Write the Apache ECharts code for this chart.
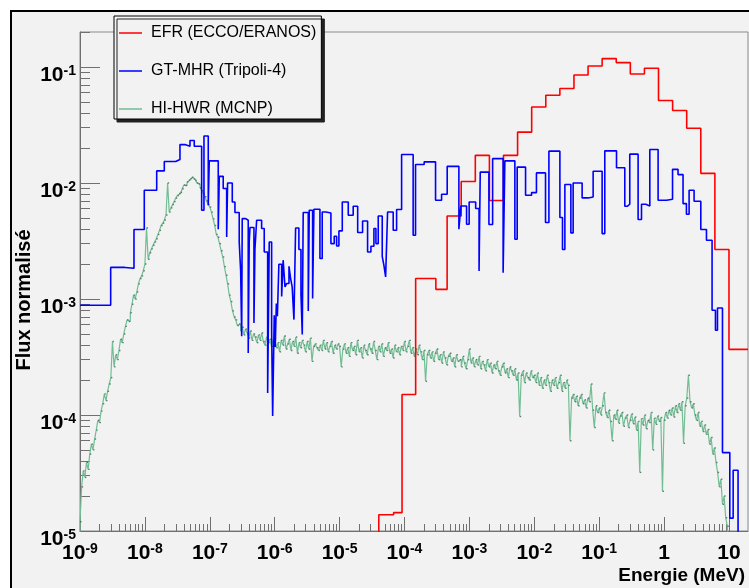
<!DOCTYPE html>
<html><head><meta charset="utf-8">
<script src="https://cdn.jsdelivr.net/npm/echarts@6/dist/echarts.min.js"></script>
<style>
html,body{margin:0;padding:0;background:#fff;width:749px;height:588px;overflow:hidden;}
#bg{position:absolute;left:10px;top:10px;width:739px;height:578px;background:#f2f2f2;border-left:2px solid #000;border-top:2px solid #000;box-sizing:border-box;}
#chart{position:absolute;left:0;top:0;width:749px;height:588px;}
</style></head><body><div id="bg"></div><div id="chart"></div>
<script>
// ---- data (energies in MeV, normalised flux) ----
const xTickValues = [1e-9, 1e-8, 1e-7, 1e-6, 1e-5, 1e-4, 1e-3, 1e-2, 1e-1, 1, 10];
const yTickValues = [1e-5, 1e-4, 1e-3, 1e-2, 1e-1];

// EFR (ECCO/ERANOS) 33-group structure (visible part)
const redEdges = [4.0169e-5, 6.7904e-5, 9.1661e-5, 1.4863e-4, 3.0432e-4, 4.54e-4, 7.4852e-4, 1.2341e-3, 2.0347e-3, 3.3546e-3, 5.5308e-3, 9.1188e-3, 1.5034e-2, 2.4788e-2, 4.0868e-2, 6.7379e-2, 0.11109, 0.18316, 0.30197, 0.49787, 0.82085, 1.3534, 2.2313, 3.6788, 6.0653, 10.0, 19.64];
const redFlux = [1.38e-5, 1.44e-5, 1.50e-4, 1.50e-3, 1.21e-3, 5.19e-3, 1.03e-2, 1.73e-2, 7.05e-3, 1.73e-2, 2.74e-2, 4.52e-2, 5.70e-2, 6.51e-2, 8.53e-2, 1.02e-1, 1.18e-1, 1.09e-1, 8.70e-2, 9.74e-2, 5.13e-2, 4.21e-2, 2.96e-2, 1.21e-2, 2.67e-3, 3.68e-4];

// GT-MHR (Tripoli-4)
const blueEdges = [1.00e-9, 2.97e-9, 4.93e-9, 6.79e-9, 9.78e-9, 1.52e-8, 1.99e-8, 2.98e-8, 3.47e-8, 4.14e-8,
  4.95e-8, 5.76e-8, 7.49e-8, 8.13e-8, 9.47e-8, 9.81e-8, 1.35e-7, 1.40e-7, 1.61e-7, 1.82e-7,
  1.88e-7, 2.22e-7, 2.44e-7, 2.84e-7, 2.99e-7, 3.10e-7, 3.16e-7, 3.57e-7, 3.91e-7, 4.05e-7,
  4.16e-7, 4.79e-7, 4.96e-7, 5.27e-7, 6.29e-7, 6.90e-7, 7.79e-7, 8.24e-7, 8.97e-7, 9.30e-7,
  9.84e-7, 1.02e-6, 1.06e-6, 1.10e-6, 1.16e-6, 1.28e-6, 1.35e-6, 1.44e-6, 1.53e-6, 1.66e-6,
  1.76e-6, 1.86e-6, 1.98e-6, 2.10e-6, 2.36e-6, 2.54e-6, 2.66e-6, 2.75e-6, 3.29e-6, 3.41e-6,
  3.84e-6, 4.02e-6, 4.98e-6, 5.40e-6, 6.16e-6, 7.35e-6, 8.27e-6, 9.00e-6, 9.76e-6, 1.10e-5,
  1.36e-5, 1.62e-5, 1.90e-5, 2.26e-5, 2.70e-5, 3.04e-5, 3.38e-5, 3.63e-5, 3.94e-5, 4.54e-5,
  4.82e-5, 5.12e-5, 5.49e-5, 6.70e-5, 7.56e-5, 9.03e-5, 1.36e-4, 1.48e-4, 2.01e-4, 3.01e-4,
  3.73e-4, 4.55e-4, 6.89e-4, 7.39e-4, 9.05e-4, 9.92e-4, 1.25e-3, 1.41e-3, 1.47e-3, 2.00e-3,
  2.28e-3, 3.31e-3, 3.52e-3, 5.02e-3, 5.45e-3, 7.34e-3, 9.08e-3, 1.08e-2, 1.49e-2, 1.68e-2,
  2.48e-2, 2.72e-2, 2.96e-2, 3.66e-2, 3.97e-2, 5.46e-2, 6.75e-2, 8.07e-2, 0.111, 0.122,
  0.185, 0.248, 0.273, 0.296, 0.398, 0.449, 0.523, 0.603, 0.809, 1.09,
  1.35, 1.64, 1.96, 2.21, 2.43, 2.90, 3.68, 4.50, 5.49, 6.19,
  6.65, 7.94, 10.3, 11.6, 13.8];
const blueFlux = [8.83e-4, 1.87e-3, 1.84e-3, 3.97e-3, 8.65e-3, 1.27e-2, 1.53e-2, 1.59e-2, 2.14e-2, 2.07e-2,
  2.32e-2, 2.07e-2, 5.82e-3, 2.54e-2, 6.42e-3, 1.55e-2, 3.99e-3, 1.14e-2, 8.95e-3, 3.42e-3,
  1.00e-2, 6.86e-3, 5.56e-3, 3.10e-3, 1.74e-3, 4.77e-4, 4.93e-3, 4.77e-3, 3.42e-4, 3.10e-3,
  4.13e-3, 6.21e-4, 2.67e-3, 4.77e-3, 4.05e-3, 2.54e-3, 1.55e-4, 3.10e-3, 5.37e-4, 9.80e-5,
  7.24e-4, 3.86e-4, 9.13e-4, 7.10e-4, 1.99e-3, 1.05e-3, 2.16e-3, 1.27e-3, 1.36e-3, 1.91e-3,
  1.50e-3, 1.27e-3, 6.64e-4, 4.09e-3, 2.67e-3, 1.10e-3, 4.93e-4, 5.56e-3, 7.88e-4, 5.82e-3,
  1.01e-3, 5.93e-3, 2.23e-3, 5.62e-3, 5.51e-3, 3.00e-3, 3.47e-3, 2.86e-3, 3.86e-3, 6.86e-3,
  5.27e-3, 6.30e-3, 3.74e-3, 4.70e-3, 2.54e-3, 2.85e-3, 4.05e-3, 3.00e-3, 5.19e-3, 2.33e-3,
  1.95e-3, 1.55e-3, 5.62e-3, 3.91e-3, 5.90e-3, 1.76e-2, 3.54e-3, 1.44e-2, 1.52e-2, 7.10e-3,
  7.99e-3, 1.39e-2, 3.99e-3, 6.33e-3, 4.41e-3, 6.86e-3, 6.02e-3, 1.74e-3, 1.24e-2, 4.38e-3,
  1.62e-2, 1.68e-3, 1.55e-2, 3.27e-3, 1.37e-2, 7.83e-3, 8.26e-3, 1.22e-2, 4.56e-3, 1.88e-2,
  5.03e-3, 2.67e-3, 9.69e-3, 3.71e-3, 1.00e-2, 7.43e-3, 7.57e-3, 1.26e-2, 3.66e-3, 1.89e-2,
  1.35e-2, 6.30e-3, 6.55e-3, 1.77e-2, 4.84e-3, 6.55e-3, 6.33e-3, 1.94e-2, 7.10e-3, 7.24e-3,
  1.31e-2, 1.18e-2, 6.64e-3, 5.37e-3, 8.65e-3, 6.95e-3, 3.97e-3, 3.21e-3, 7.99e-4, 5.37e-4,
  8.36e-4, 4.74e-5, 1.29e-5, 3.34e-5];

// HI-HWR (MCNP): equal-lethargy bins, 40 per decade from 1e-9 MeV
const greenFirstDecade = -9;
const greenBinsPerDecade = 40;
const greenFlux = [
  // 1e-9 .. 1e-8
  1.2e-5, 2.4e-5, 3.3e-5, 2.9e-5, 3.9e-5, 3.4e-5, 4.6e-5, 5.6e-5, 5.0e-5, 6.2e-5,
  7.4e-5, 9.0e-5, 8.6e-5, 1.08e-4, 1.25e-4, 1.52e-4, 1.33e-4, 1.60e-4, 1.85e-4, 2.1e-4,
  4.3e-4, 2.6e-4, 3.3e-4, 3.0e-4, 3.6e-4, 4.5e-4, 4.2e-4, 5.0e-4, 5.8e-4, 6.6e-4,
  6.4e-4, 7.6e-4, 9.0e-4, 1.08e-3, 1.0e-3, 1.15e-3, 1.35e-3, 1.5e-3, 1.58e-3, 1.75e-3,
  // 1e-8 .. 1e-7
  2.0e-3, 4.1e-3, 2.2e-3, 2.5e-3, 2.7e-3, 2.9e-3, 3.1e-3, 3.3e-3, 3.6e-3, 3.9e-3,
  4.3e-3, 4.5e-3, 4.8e-3, 5.3e-3, 1.0e-2, 5.6e-3, 6.1e-3, 6.5e-3, 6.9e-3, 7.4e-3,
  7.8e-3, 8.1e-3, 8.3e-3, 8.9e-3, 9.6e-3, 9.5e-3, 1.02e-2, 1.06e-2, 1.09e-2, 1.12e-2,
  1.08e-2, 1.05e-2, 1.0e-2, 9.8e-3, 9.1e-3, 8.6e-3, 8.1e-3, 7.6e-3, 7.0e-3, 6.5e-3,
  // 1e-7 .. 1e-6
  6.2e-3, 5.6e-3, 4.9e-3, 4.3e-3, 3.6e-3, 3.4e-3, 3.0e-3, 2.6e-3, 2.3e-3, 1.9e-3,
  1.6e-3, 1.35e-3, 1.08e-3, 9.5e-4, 7.9e-4, 7.0e-4, 6.6e-4, 5.9e-4, 6.1e-4, 5.3e-4,
  5.7e-4, 4.9e-4, 5.5e-4, 5.1e-4, 4.6e-4, 5.3e-4, 4.4e-4, 5.0e-4, 4.7e-4, 4.2e-4,
  4.9e-4, 4.4e-4, 5.1e-4, 4.3e-4, 4.0e-4, 4.7e-4, 4.2e-4, 4.5e-4, 3.9e-4, 4.4e-4,
  // 1e-6 .. 1e-5
  4.6e-4, 3.8e-4, 4.2e-4, 3.5e-4, 4.4e-4, 4.0e-4, 4.8e-4, 3.7e-4, 4.1e-4, 4.5e-4,
  3.6e-4, 4.3e-4, 3.9e-4, 4.7e-4, 3.4e-4, 4.2e-4, 3.8e-4, 4.4e-4, 4.0e-4, 3.5e-4,
  4.3e-4, 3.7e-4, 4.6e-4, 2.9e-4, 3.9e-4, 4.1e-4, 3.8e-4, 3.6e-4, 4.0e-4, 3.6e-4,
  4.4e-4, 3.7e-4, 4.2e-4, 3.5e-4, 3.9e-4, 4.3e-4, 3.4e-4, 4.0e-4, 3.7e-4, 4.1e-4,
  // 1e-5 .. 1e-4
  3.9e-4, 2.6e-4, 3.7e-4, 4.1e-4, 3.4e-4, 3.8e-4, 3.2e-4, 4.2e-4, 3.6e-4, 3.9e-4,
  3.3e-4, 4.4e-4, 3.5e-4, 3.8e-4, 3.1e-4, 4.0e-4, 3.6e-4, 3.3e-4, 4.1e-4, 3.7e-4,
  3.4e-4, 4.3e-4, 3.6e-4, 3.0e-4, 3.9e-4, 3.5e-4, 4.1e-4, 3.2e-4, 3.8e-4, 3.6e-4,
  4.2e-4, 3.4e-4, 3.7e-4, 3.1e-4, 4.0e-4, 3.5e-4, 3.8e-4, 3.3e-4, 3.9e-4, 3.6e-4,
  // 1e-4 .. 1e-3
  4.3e-4, 3.5e-4, 3.9e-4, 4.4e-4, 3.4e-4, 3.8e-4, 3.2e-4, 3.7e-4, 3.3e-4, 4.0e-4,
  3.5e-4, 3.0e-4, 3.6e-4, 1.95e-4, 3.3e-4, 3.6e-4, 3.1e-4, 3.5e-4, 2.9e-4, 3.4e-4,
  3.7e-4, 3.0e-4, 3.3e-4, 2.8e-4, 3.5e-4, 3.1e-4, 2.7e-4, 3.2e-4, 3.4e-4, 2.9e-4,
  3.1e-4, 2.6e-4, 3.3e-4, 2.9e-4, 3.0e-4, 2.6e-4, 3.2e-4, 2.8e-4, 2.5e-4, 3.0e-4,
  // 1e-3 .. 1e-2
  3.7e-4, 2.8e-4, 3.1e-4, 2.6e-4, 3.0e-4, 2.7e-4, 3.2e-4, 2.5e-4, 2.9e-4, 2.7e-4,
  2.4e-4, 3.0e-4, 2.6e-4, 2.8e-4, 2.3e-4, 2.7e-4, 2.5e-4, 2.9e-4, 2.4e-4, 2.2e-4,
  2.6e-4, 2.8e-4, 2.3e-4, 2.5e-4, 2.1e-4, 2.6e-4, 2.4e-4, 2.2e-4, 2.5e-4, 2.0e-4,
  2.3e-4, 9.7e-5, 2.2e-4, 2.4e-4, 1.9e-4, 2.3e-4, 2.1e-4, 2.0e-4, 2.4e-4, 2.1e-4,
  // 1e-2 .. 1e-1
  2.2e-4, 1.9e-4, 2.3e-4, 1.8e-4, 2.1e-4, 1.7e-4, 2.0e-4, 1.8e-4, 2.2e-4, 1.9e-4,
  1.6e-4, 2.0e-4, 1.8e-4, 2.1e-4, 1.7e-4, 1.9e-4, 2.2e-4, 1.6e-4, 1.9e-4, 1.7e-4,
  2.0e-4, 1.8e-4, 6.0e-5, 1.4e-4, 1.5e-4, 1.3e-4, 1.45e-4, 1.2e-4, 1.4e-4, 1.5e-4,
  1.25e-4, 1.35e-4, 1.15e-4, 1.4e-4, 1.3e-4, 1.85e-4, 1.1e-4, 7.8e-5, 1.2e-4, 1.05e-4,
  // 1e-1 .. 1
  1.15e-4, 1.0e-4, 1.2e-4, 1.55e-4, 1.05e-4, 9.5e-5, 1.1e-4, 8.8e-5, 6.0e-5, 1.0e-4,
  9.2e-5, 1.1e-4, 8.5e-5, 9.8e-5, 1.05e-4, 8.0e-5, 9.4e-5, 1.0e-4, 7.8e-5, 9.0e-5,
  1.02e-4, 8.4e-5, 9.6e-5, 7.4e-5, 8.8e-5, 3.2e-5, 9.3e-5, 8.2e-5, 1.0e-4, 7.6e-5,
  9.0e-5, 8.6e-5, 1.05e-4, 5.0e-5, 9.4e-5, 8.3e-5, 9.8e-5, 8.8e-5, 9.5e-5, 2.2e-5,
  // 1 .. 10
  9.0e-5, 1.05e-4, 9.4e-5, 1.1e-4, 1.0e-4, 1.15e-4, 9.6e-5, 1.2e-4, 1.05e-4, 1.25e-4,
  1.1e-4, 1.3e-4, 5.7e-5, 1.2e-4, 1.4e-4, 2.2e-4, 1.3e-4, 1.15e-4, 1.25e-4, 1.0e-4,
  9.0e-5, 1.05e-4, 8.0e-5, 8.8e-5, 7.2e-5, 8.2e-5, 6.8e-5, 7.5e-5, 5.6e-5, 6.4e-5,
  4.6e-5, 5.2e-5, 3.9e-5, 3.2e-5, 2.4e-5, 2.8e-5, 1.7e-5, 2.0e-5, 1.3e-5, 1.1e-5];

const seriesNames = ['EFR (ECCO/ERANOS)', 'GT-MHR (Tripoli-4)', 'HI-HWR (MCNP)'];
const seriesColors = ['#ff0000', '#0000ff', '#72bd94'];

// ---- build ----
const FLOOR = 1e-7; // below the axis minimum, clipped
function histPoints(edges, vals, lead, trail) {
  const pts = [];
  if (lead) pts.push([edges[0], FLOOR]);
  for (let i = 0; i < vals.length; i++) pts.push([edges[i], vals[i]]);
  pts.push([edges[vals.length], vals[vals.length - 1]]);
  if (trail) pts.push([edges[vals.length], FLOOR]);
  return pts;
}
const greenEdges = [];
for (let i = 0; i <= greenFlux.length; i++) greenEdges.push(Math.pow(10, greenFirstDecade + i / greenBinsPerDecade));
const greenCenters = greenFlux.map((v, i) => [Math.sqrt(greenEdges[i] * greenEdges[i + 1]), v]);

function minorTicks(lo, hi) {
  const out = [];
  for (let d = Math.floor(Math.log10(lo)); d <= Math.ceil(Math.log10(hi)); d++) {
    for (let k = 2; k <= 9; k++) { const v = k * Math.pow(10, d); if (v >= lo && v <= hi * 1.0001) out.push(v); }
  }
  return out;
}
const X_MIN = 1e-9, X_MAX = 19.64, Y_MIN = 1e-5, Y_MAX = 0.2;

function powLabel(v) {
  const e = Math.round(Math.log10(v));
  if (e === 0) return '{b|1}';
  if (e === 1) return '{b|10}';
  return '{b|10}{s|' + e + '}';
}
const FONT = 'Liberation Sans, Arial, Helvetica, sans-serif';
const rich = {
  b: { fontSize: 21, fontWeight: 'bold', fontFamily: FONT, color: '#000', lineHeight: 22 },
  s: { fontSize: 14, fontWeight: 'bold', fontFamily: FONT, color: '#000', lineHeight: 6, verticalAlign: 'top' }
};
const AX = '#707070';
const LINE_ICON = 'path://M0,0h0.01v0.01h-0.01z M0,7.2h23v1.6h-23z M22.99,15.99h0.01v0.01h-0.01z';

const chart = echarts.init(document.getElementById('chart'), null, { renderer: 'canvas' });
chart.setOption({
  animation: false,
  backgroundColor: 'transparent',
  grid: { left: 80, right: 1, top: 32, bottom: 57, show: true, borderColor: '#8a8a8a', borderWidth: 1, backgroundColor: 'transparent', containLabel: false, outerBoundsMode: 'none' },
  legend: {
    data: seriesNames.map(n => ({ name: n, icon: LINE_ICON })), orient: 'vertical', left: 114, top: 16, selectedMode: false,
    itemWidth: 23, itemHeight: 16, itemGap: 22, padding: [9, 5, 2, 5],
    backgroundColor: '#f2f2f2', borderColor: '#000', borderWidth: 1,
    shadowColor: '#222', shadowBlur: 0, shadowOffsetX: 3, shadowOffsetY: 3,
    textStyle: { fontSize: 16, fontFamily: FONT, color: '#000', padding: [0, 0, 0, 4] }
  },
  xAxis: [
    { type: 'log', logBase: 10, min: X_MIN, max: X_MAX, position: 'bottom',
      axisLine: { show: true, lineStyle: { color: AX, width: 1 } },
      axisTick: { show: true, inside: true, length: 14, lineStyle: { color: AX }, customValues: xTickValues },
      axisLabel: { show: true, customValues: xTickValues, formatter: powLabel, rich: rich, margin: 11, hideOverlap: false },
      splitLine: { show: false }, minorTick: { show: false } },
    { type: 'log', logBase: 10, min: X_MIN, max: X_MAX, position: 'bottom',
      axisLine: { show: false },
      axisTick: { show: true, inside: true, length: 7, lineStyle: { color: AX }, customValues: minorTicks(X_MIN, X_MAX) },
      axisLabel: { show: false }, splitLine: { show: false } }
  ],
  yAxis: [
    { type: 'log', logBase: 10, min: Y_MIN, max: Y_MAX, position: 'left',
      axisLine: { show: true, lineStyle: { color: AX, width: 1 } },
      axisTick: { show: true, inside: true, length: 20, lineStyle: { color: AX }, customValues: yTickValues },
      axisLabel: { show: true, customValues: yTickValues, formatter: powLabel, rich: rich, margin: 4, padding: [16, 0, 0, 0], hideOverlap: false },
      splitLine: { show: false } },
    { type: 'log', logBase: 10, min: Y_MIN, max: Y_MAX, position: 'left',
      axisLine: { show: false },
      axisTick: { show: true, inside: true, length: 10, lineStyle: { color: AX }, customValues: minorTicks(Y_MIN, Y_MAX) },
      axisLabel: { show: false }, splitLine: { show: false } }
  ],
  graphic: [
    { type: 'text', x: 745, y: 576, z: 100,
      style: { text: 'Energie (MeV)', font: 'bold 19px ' + FONT, fill: '#000', textAlign: 'right', textVerticalAlign: 'middle' } },
    { type: 'text', x: 24, y: 300, rotation: Math.PI / 2, z: 100,
      style: { text: 'Flux normalisé', font: 'bold 20px ' + FONT, fill: '#000', textAlign: 'center', textVerticalAlign: 'middle' } }
  ],
  series: [
    { name: seriesNames[2], type: 'line', step: 'end', data: histPoints(greenEdges, greenFlux, true, true),
      symbol: 'none', lineStyle: { color: seriesColors[2], width: 1.2 }, itemStyle: { color: seriesColors[2] }, z: 2, clip: true },
    { type: 'scatter', data: greenCenters, symbol: 'rect', symbolSize: 1.4, itemStyle: { color: '#3a6650' }, z: 3, silent: true, clip: true },
    { name: seriesNames[0], type: 'line', step: 'end', data: histPoints(redEdges, redFlux, true, false),
      symbol: 'none', lineStyle: { color: seriesColors[0], width: 1.6 }, itemStyle: { color: seriesColors[0] }, z: 4, clip: true },
    { name: seriesNames[1], type: 'line', step: 'end', data: histPoints(blueEdges, blueFlux, false, true),
      symbol: 'none', lineStyle: { color: seriesColors[1], width: 1.6 }, itemStyle: { color: seriesColors[1] }, z: 5, clip: true }
  ]
});
</script></body></html>
